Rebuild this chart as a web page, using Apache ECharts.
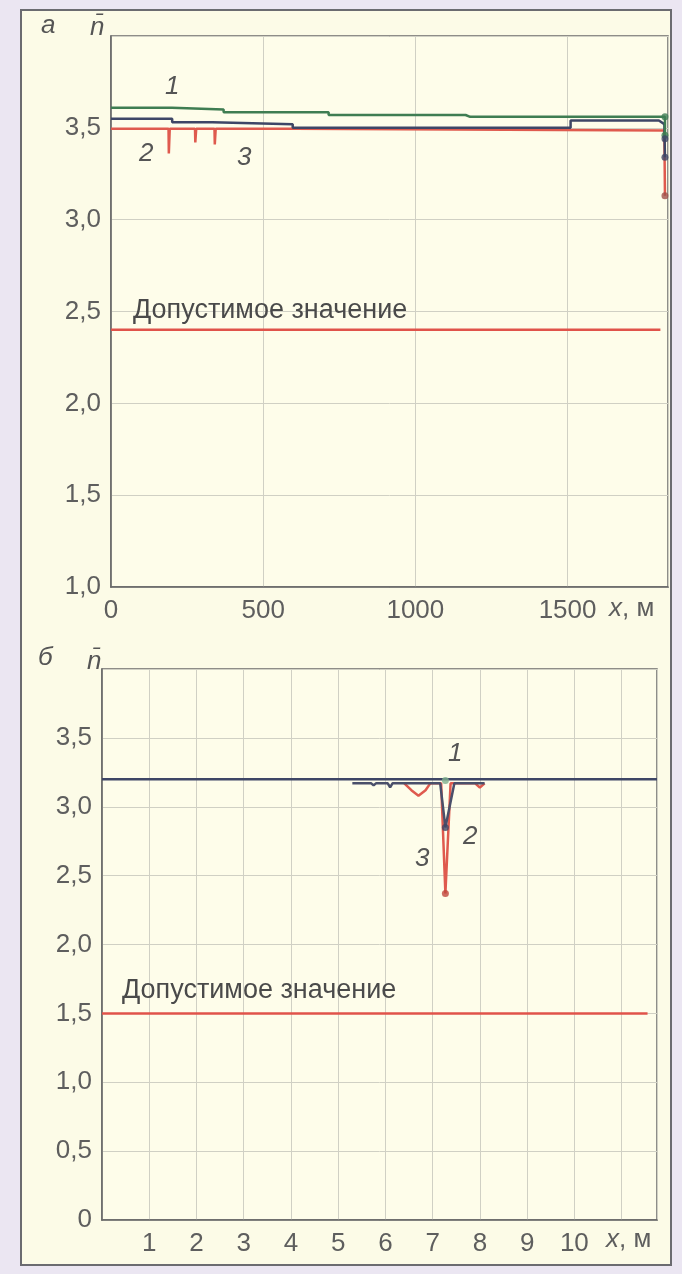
<!DOCTYPE html>
<html><head><meta charset="utf-8">
<script src="https://cdn.jsdelivr.net/npm/echarts@6/dist/echarts.min.js"></script>
<style>
html,body{margin:0;padding:0;background:#ebe6f2;}
#frame{position:absolute;left:20px;top:9px;width:652px;height:1257px;border:2px solid #6b6b70;background:#fcfbe7;box-sizing:border-box;}
#chart{position:absolute;left:0;top:0;width:682px;height:1274px;}
</style></head><body>
<div id="frame"></div><div id="chart"></div>
<script>
// ---- panel a (x in metres, 0..1830) ----
const topXTicks = [0, 500, 1000, 1500];
const topLine1 = [[0,3.61],[200,3.61],[200,3.60],[370,3.60],[370,3.585],[715,3.585],[715,3.57],[1165,3.57],[1180,3.56],[1820,3.56],[1820,3.46]];
const topLine2 = [[0,3.55],[201,3.55],[201,3.53],[333,3.53],[333,3.52],[597,3.52],[597,3.50],[1510,3.50],[1510,3.54],[1800,3.54],[1818,3.52],[1820,3.34]];
const topLine3 = [[0,3.495],[189,3.495],[190,3.36],[192,3.36],[193,3.495],[276,3.495],[277,3.42],[279,3.42],[280,3.495],[340,3.495],[341,3.41],[343,3.41],[344,3.495],[606,3.495],[606,3.485],[1818,3.485],[1820,3.13]];
const topDots1 = [[1820,3.56],[1820,3.46]];
const topDots2 = [[1820,3.44],[1820,3.34]];
const topDots3 = [[1820,3.13]];
const topAllowed = [[0,2.4],[1805,2.4]];
// ---- panel b (x in metres, 0..11.75) ----
const botLine1 = [[0,3.2],[11.75,3.2]];
const botLine2 = [[5.3,3.17],[5.7,3.17],[5.75,3.155],[5.8,3.17],[6.05,3.17],[6.1,3.14],[6.15,3.17],[7.16,3.17],[7.27,2.85],[7.46,3.17],[8.1,3.17]];
const botLine3 = [[6.4,3.17],[6.55,3.12],[6.7,3.08],[6.85,3.12],[6.95,3.17],[7.18,3.17],[7.27,2.37],[7.38,3.17],[7.9,3.17],[8.0,3.14],[8.1,3.17]];
const botDots1 = [[7.27,3.19]];
const botDots2 = [[7.27,2.85]];
const botDots3 = [[7.27,2.37]];
const botAllowed = [[0,1.5],[11.55,1.5]];

const allowedLabel = 'Допустимое значение';
const cGreen = '#3f7d52', cNavy = '#3e4666', cRed = '#df5a4e', cAllowed = '#e0534a';
const FONT = "'Liberation Sans', Arial, sans-serif";
const labelColor = '#5e5e5e';
const FS = 26;

const chart = echarts.init(document.getElementById('chart'), null, {renderer:'canvas'});
const fmtY = v => (v >= 3.99) ? '' : (v === 0 ? '0' : v.toFixed(1).replace('.', ','));
const gridStyle = {show:true, borderColor:'#6a6a6a', borderWidth:1.5, backgroundColor:'#fefdea'};
const splitStyle = {show:true, lineStyle:{color:'#d0d0c4', width:1}};

function line(data, color, xi, w){ return {type:'line', xAxisIndex:xi, yAxisIndex:xi, data, showSymbol:false, symbol:'none', lineStyle:{color, width:w||2.5}, animation:false, z:3}; }
function dots(data, color, xi){ return {type:'scatter', xAxisIndex:xi, yAxisIndex:xi, data, symbolSize:7, itemStyle:{color}, animation:false, z:4}; }
function txt(x, y, s, opt){ return {type:'text', left:x, top:y, style:Object.assign({text:s, font:'italic '+FS+'px '+FONT, fill:'#555'}, opt||{}), z:10}; }
const xm = (x, y) => ({type:'text', left:x, top:y, style:{rich:{i:{font:'italic '+FS+'px '+FONT, fill:labelColor}, n:{font:FS+'px '+FONT, fill:labelColor}}, text:'{i|x}{n|, м}'}, z:10});

chart.setOption({
  animation:false,
  grid:[
    Object.assign({left:111, top:36, right:14, bottom:687}, gridStyle),
    Object.assign({left:102, top:669, right:25, bottom:54}, gridStyle)
  ],
  xAxis:[
    {type:'value', gridIndex:0, min:0, max:1830, interval:500,
     axisLine:{show:true, lineStyle:{color:'#666', width:1.5}}, axisTick:{show:false},
     splitLine:splitStyle,
     axisLabel:{fontSize:FS, fontFamily:FONT, color:labelColor, margin:11, showMaxLabel:false,
       formatter: v => topXTicks.indexOf(v) >= 0 ? String(v) : ''}},
    {type:'value', gridIndex:1, min:0, max:11.75, interval:1,
     axisLine:{show:true, lineStyle:{color:'#666', width:1.5}}, axisTick:{show:false},
     splitLine:splitStyle,
     axisLabel:{fontSize:FS, fontFamily:FONT, color:labelColor, margin:11, showMaxLabel:false,
       formatter: v => (v === 0 || v > 10.5) ? '' : String(v)}}
  ],
  yAxis:[
    {type:'value', gridIndex:0, min:1, max:4, interval:0.5,
     axisLine:{show:true, lineStyle:{color:'#666', width:1.5}}, axisTick:{show:false},
     splitLine:splitStyle,
     axisLabel:{fontSize:FS, fontFamily:FONT, color:labelColor, margin:10, formatter:fmtY}},
    {type:'value', gridIndex:1, min:0, max:4, interval:0.5,
     axisLine:{show:true, lineStyle:{color:'#666', width:1.5}}, axisTick:{show:false},
     splitLine:splitStyle,
     axisLabel:{fontSize:FS, fontFamily:FONT, color:labelColor, margin:10, formatter:fmtY}}
  ],
  series:[
    line(topAllowed, cAllowed, 0, 2.5),
    line(topLine3, cRed, 0),
    line(topLine2, cNavy, 0),
    line(topLine1, cGreen, 0),
    dots(topDots1, cGreen, 0), dots(topDots2, cNavy, 0), dots(topDots3, '#a0504a', 0),
    line(botAllowed, cAllowed, 1, 2.5),
    line(botLine1, cNavy, 1),
    line(botLine3, cRed, 1),
    line(botLine2, '#4a4f6a', 1),
    dots(botDots1, '#7fb08f', 1), dots(botDots2, cNavy, 1), dots(botDots3, '#c0463c', 1)
  ],
  graphic:[
    txt(41, 13, 'а'), txt(90, 15, 'n̄'),
    txt(165, 74, '1'), txt(139, 141, '2'), txt(237, 145, '3'),
    txt(133, 297, allowedLabel, {font:'27px '+FONT, fill:'#4a4a4a'}),
    xm(609, 596),
    txt(38, 645, 'б'), txt(87, 649, 'n̄'),
    txt(448, 741, '1'), txt(463, 824, '2'), txt(415, 846, '3'),
    txt(122, 977, allowedLabel, {font:'27px '+FONT, fill:'#4a4a4a'}),
    xm(606, 1227)
  ]
});
</script>
</body></html>
